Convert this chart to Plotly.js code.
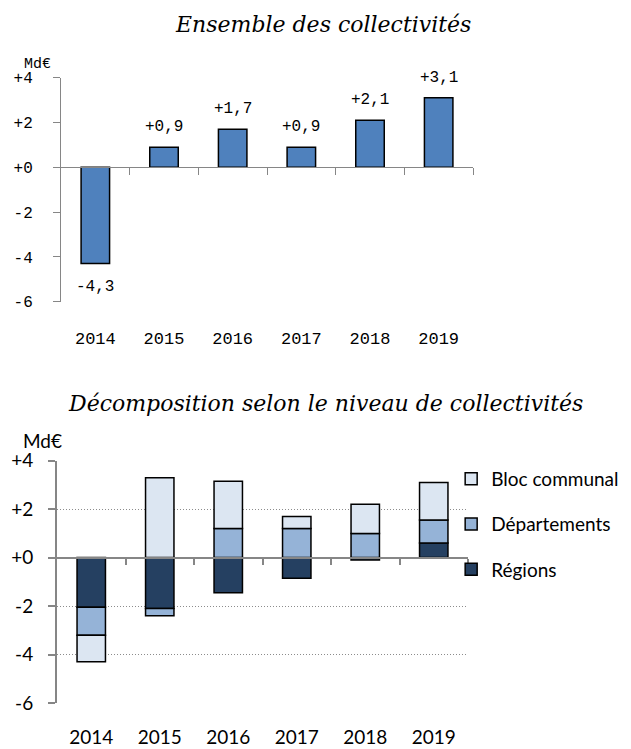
<!DOCTYPE html>
<html>
<head>
<meta charset="utf-8">
<script src="https://cdn.plot.ly/plotly-3.0.1.min.js"></script>
<style>
  html, body { margin: 0; padding: 0; background: #fff; }
  #chart { width: 631px; height: 749px; }
</style>
</head>
<body>
<div id="chart"></div>
<script>
// Years on the category axis
const years = ['2014', '2015', '2016', '2017', '2018', '2019'];

// Total change, all local authorities (Md€)
const totalValues = [-4.3, 0.9, 1.7, 0.9, 2.1, 3.1];

// Breakdown by level of local authority (Md€)
const regions = [-2.05, -2.1, -1.45, -0.85, -0.1, 0.6];
const departements = [-1.15, -0.3, 1.2, 1.2, 1.0, 0.95];
const blocCommunal = [-1.1, 3.3, 1.95, 0.5, 1.2, 1.55];

// Value axis ticks
const yRange = [-6, 4];
const yTickVals = [4, 2, 0, -2, -4, -6];
const yTickText = ['+4', '+2', '+0', '-2', '-4', '-6'];

const W = 631, H = 749;
const monoFont = 'Liberation Mono, DejaVu Sans Mono, monospace';
const sansFont = 'Lato, Noto Sans, sans-serif';
const serifFont = 'DejaVu Serif, Liberation Serif, serif';
const axisGrey = '#868686';

// Panel placement in pixels
const topPx = { left: 61, right: 473, top: 77.7, bottom: 301.7 };
const botPx = { left: 57, right: 468, top: 460.7, bottom: 703 };

function domX(p) { return [p.left / W, p.right / W]; }
function domY(p) { return [1 - p.bottom / H, 1 - p.top / H]; }

// Category index range and the boundaries between categories
const catRange = [-0.5, years.length - 0.5];
const boundaries = years.map((_, i) => i + 0.5);

// Paper position of the zero line inside a panel
function zeroPos(p) {
  const d = domY(p);
  return d[0] + (0 - yRange[0]) / (yRange[1] - yRange[0]) * (d[1] - d[0]);
}

function fmt(v) {
  return (v > 0 ? '+' : '') + v.toFixed(1).replace('.', ',');
}

const outline = { color: '#000', width: 1.5 };

const traces = [
  {
    type: 'bar', x: years, y: totalValues, xaxis: 'x', yaxis: 'y',
    marker: { color: '#4F81BD', line: outline },
    showlegend: false, hoverinfo: 'skip'
  },
  { type: 'scatter', x: [], y: [], xaxis: 'x2', yaxis: 'y', showlegend: false, hoverinfo: 'skip' },
  {
    type: 'bar', name: 'Régions', x: years, y: regions, xaxis: 'x3', yaxis: 'y2',
    legendgroup: 'r', legendrank: 3,
    marker: { color: '#254061', line: outline }, hoverinfo: 'skip'
  },
  {
    type: 'bar', name: 'Départements', x: years, y: departements, xaxis: 'x3', yaxis: 'y2',
    legendgroup: 'd', legendrank: 2,
    marker: { color: '#95B3D7', line: outline }, hoverinfo: 'skip'
  },
  {
    type: 'bar', name: 'Bloc communal', x: years, y: blocCommunal, xaxis: 'x3', yaxis: 'y2',
    legendgroup: 'b', legendrank: 1,
    marker: { color: '#DCE6F2', line: outline }, hoverinfo: 'skip'
  },
  { type: 'scatter', x: [], y: [], xaxis: 'x4', yaxis: 'y2', showlegend: false, hoverinfo: 'skip' }
];

// Value labels above / below the total bars (x given as category index)
const valueLabels = totalValues.map((v, i) => ({
  xref: 'x', yref: 'y', x: i, y: v,
  text: fmt(v), showarrow: false,
  yanchor: 'middle', yshift: v >= 0 ? 20 : -23,
  font: { family: monoFont, size: 16, color: '#000' }
}));

const annotations = valueLabels.concat([
  {
    xref: 'paper', yref: 'paper', x: 322.5 / W, y: 1 - 25 / H,
    text: 'Ensemble des collectivités', showarrow: false,
    xanchor: 'center', yanchor: 'middle',
    font: { family: serifFont, size: 22, color: '#000', style: 'italic' }
  },
  {
    xref: 'paper', yref: 'paper', x: 325 / W, y: 1 - 403 / H,
    text: 'Décomposition selon le niveau de collectivités', showarrow: false,
    xanchor: 'center', yanchor: 'middle',
    font: { family: serifFont, size: 22, color: '#000', style: 'italic' }
  },
  {
    xref: 'x domain', yref: 'y domain', x: 0, y: 1,
    text: 'Md€', showarrow: false, xanchor: 'right', yanchor: 'middle',
    xshift: -8, yshift: 13,
    font: { family: monoFont, size: 15, color: '#000' }
  },
  {
    xref: 'x3 domain', yref: 'y2 domain', x: 0, y: 1,
    text: 'Md€', showarrow: false, xanchor: 'right', yanchor: 'middle',
    xshift: 7, yshift: 20,
    font: { family: sansFont, size: 19, color: '#000' }
  }
]);

const layout = {
  width: W, height: H,
  margin: { l: 0, r: 0, t: 0, b: 0 },
  paper_bgcolor: '#fff', plot_bgcolor: 'rgba(0,0,0,0)',
  barmode: 'relative', bargap: 0.585,
  showlegend: true,
  legend: {
    x: 0.715, xanchor: 'left', y: 0.386, yanchor: 'top',
    font: { family: sansFont, size: 19, color: '#000' },
    traceorder: 'grouped', tracegroupgap: 17.5,
    bgcolor: 'rgba(0,0,0,0)'
  },
  // Top panel: labels at the bottom, zero-line axis with ticks between years
  xaxis: {
    domain: domX(topPx), anchor: 'y', type: 'category', range: catRange,
    ticks: '', showline: false, showgrid: false, zeroline: false,
    ticklabelstandoff: 24,
    tickfont: { family: monoFont, size: 17, color: '#000' }
  },
  xaxis2: {
    overlaying: 'x', anchor: 'free', position: zeroPos(topPx),
    range: catRange, tickvals: boundaries,
    ticks: 'outside', ticklen: 7, tickwidth: 1, tickcolor: axisGrey,
    showline: true, linecolor: axisGrey, linewidth: 1,
    showticklabels: false, showgrid: false, zeroline: false
  },
  yaxis: {
    domain: domY(topPx), anchor: 'x', range: yRange,
    tickvals: yTickVals, ticktext: yTickText,
    ticks: 'outside', ticklen: 7, tickwidth: 1, tickcolor: axisGrey,
    showline: true, linecolor: axisGrey, linewidth: 1,
    showgrid: false, zeroline: false,
    ticklabelstandoff: 17,
    tickfont: { family: monoFont, size: 16, color: '#000' }
  },
  // Bottom panel
  xaxis3: {
    domain: domX(botPx), anchor: 'y2', type: 'category', range: catRange,
    ticks: '', showline: false, showgrid: false, zeroline: false,
    ticklabelstandoff: 21,
    tickfont: { family: sansFont, size: 19, color: '#000' }
  },
  xaxis4: {
    overlaying: 'x3', anchor: 'free', position: zeroPos(botPx),
    range: catRange, tickvals: boundaries,
    ticks: 'outside', ticklen: 6, tickwidth: 2, tickcolor: axisGrey,
    showline: true, linecolor: axisGrey, linewidth: 2,
    showticklabels: false, showgrid: false, zeroline: false
  },
  yaxis2: {
    domain: domY(botPx), anchor: 'x3', range: yRange,
    tickvals: yTickVals, ticktext: yTickText,
    ticks: 'outside', ticklen: 7, tickwidth: 2, tickcolor: axisGrey,
    showline: true, linecolor: axisGrey, linewidth: 2,
    showgrid: true, gridcolor: '#8c8c8c', gridwidth: 1, griddash: '1px,2px',
    zeroline: false,
    ticklabelstandoff: 11,
    tickfont: { family: sansFont, size: 19, color: '#000' }
  },
  annotations: annotations
};

Plotly.newPlot('chart', traces, layout, { staticPlot: true, displayModeBar: false });
</script>
</body>
</html>
